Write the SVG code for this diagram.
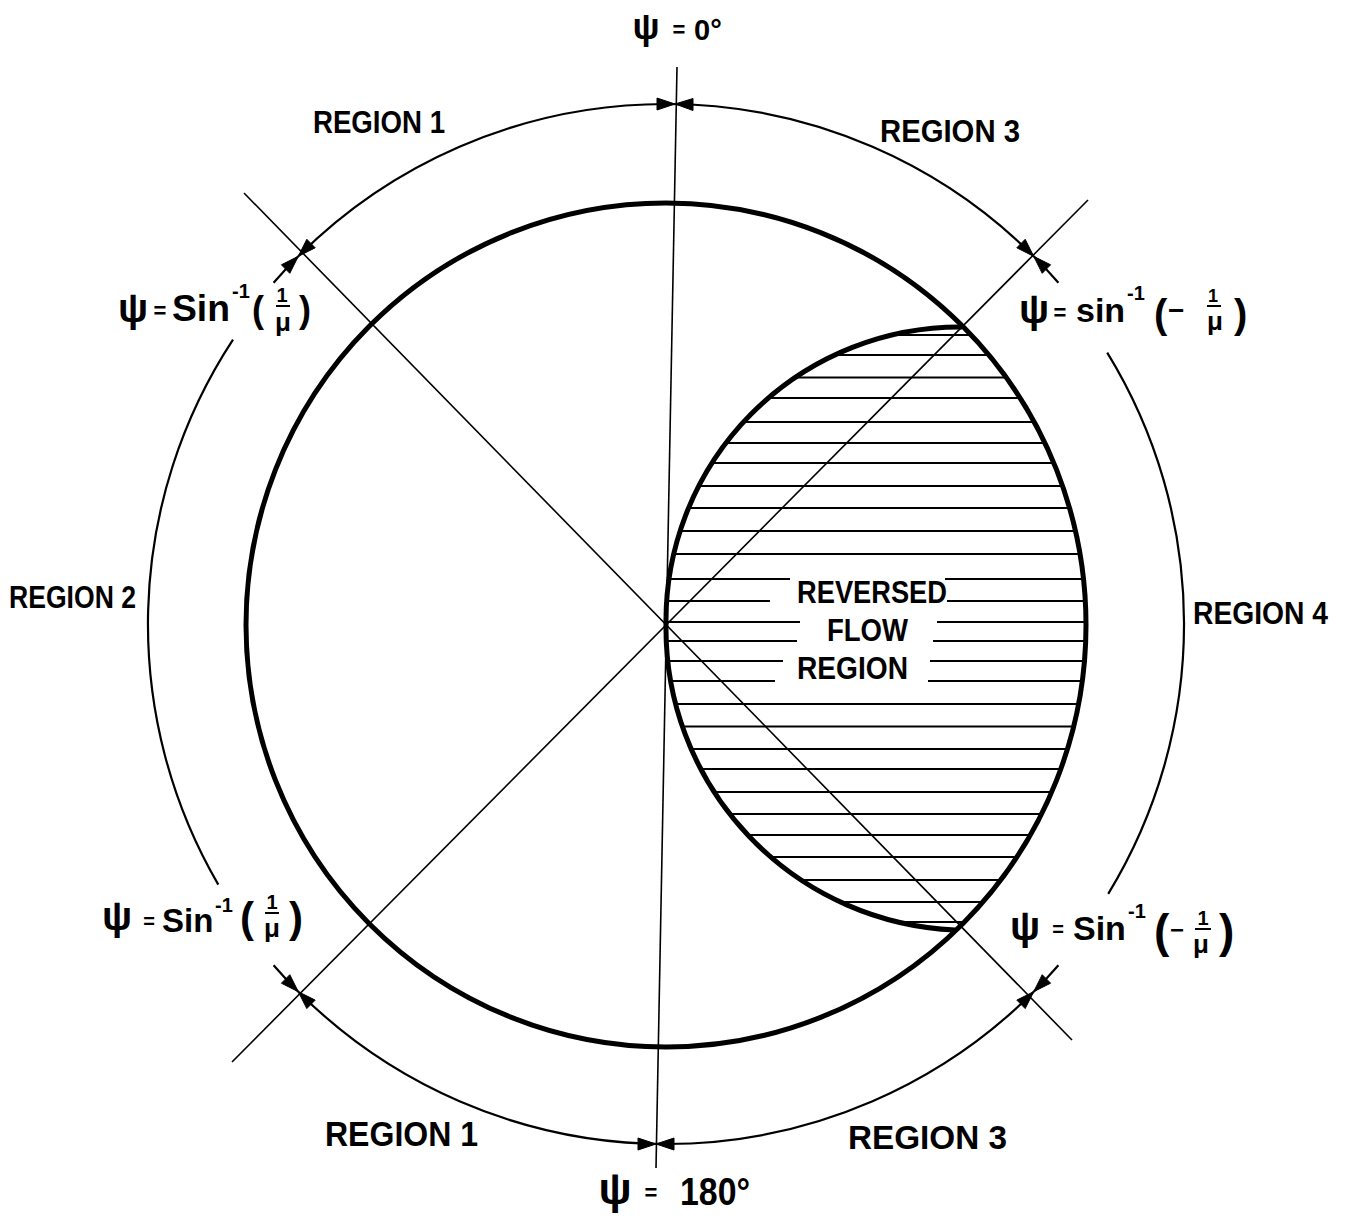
<svg xmlns="http://www.w3.org/2000/svg" width="1350" height="1220" viewBox="0 0 1350 1220">
<style>
.lbl{font-family:"Liberation Sans","DejaVu Sans",sans-serif;font-weight:bold;fill:#000}
.thin{fill:none;stroke:#000;stroke-width:1.6}
.dim{fill:none;stroke:#000;stroke-width:2.2}
.thick{fill:none;stroke:#000;stroke-width:5}
.hatch{stroke:#000;stroke-width:2}
.bar{stroke:#000;stroke-width:2}
.arr{fill:#000;stroke:#000;stroke-width:1}
</style>
<defs>
<clipPath id="mainC"><ellipse cx="666" cy="625" rx="420" ry="422"/></clipPath>
<clipPath id="flowC"><path d="M 962 327 A 294 294 0 0 0 666 625 A 302 302 0 0 0 955 930 L 1200 930 L 1200 327 Z"/></clipPath>
</defs>
<rect width="1350" height="1220" fill="#fff"/>

<g id="connectors">
<line class="thin" x1="677" y1="67" x2="656" y2="1168"/>
<line class="thin" x1="244" y1="193" x2="1072" y2="1040"/>
<line class="thin" x1="1088" y1="200" x2="232" y2="1062"/>
<path class="dim" d="M 298.3 256.3 A 520 520 0 0 1 1033.7 256.3"/>
<path class="dim" d="M 1033.7 991.7 A 520 520 0 0 1 298.3 991.7"/>
<path class="dim" d="M 233 339.6 A 518 518 0 0 0 218.3 884.6"/>
<path class="dim" d="M 1107.2 352.6 A 518 518 0 0 1 1108.2 893.9"/>
<path class="dim" d="M 298.3 256.3 A 520 520 0 0 0 273.6 282.8"/>
<path class="dim" d="M 1033.7 256.3 A 520 520 0 0 1 1058.4 282.8"/>
<path class="dim" d="M 1033.7 991.7 A 520 520 0 0 0 1058.4 965.2"/>
<path class="dim" d="M 298.3 991.7 A 520 520 0 0 1 273.6 965.2"/>
<polygon class="arr" points="675,104 657,98 657,110"/>
<polygon class="arr" points="675,104 693,98.5 693,110.5"/>
<polygon class="arr" points="298.3,256.3 306.8,239.3 315.2,247.8"/>
<polygon class="arr" points="298.3,256.3 281.4,264.8 289.8,273.3"/>
<polygon class="arr" points="1033.7,256.3 1025.2,239.3 1016.8,247.8"/>
<polygon class="arr" points="1033.7,256.3 1050.6,264.8 1042.2,273.3"/>
<polygon class="arr" points="1033.7,991.7 1025.2,1008.6 1016.8,1000.1"/>
<polygon class="arr" points="1033.7,991.7 1050.6,983.2 1042.2,974.7"/>
<polygon class="arr" points="298.3,991.7 306.8,1008.6 315.2,1000.1"/>
<polygon class="arr" points="298.3,991.7 281.4,983.2 289.8,974.7"/>
<polygon class="arr" points="656,1144 638,1138 638,1150"/>
<polygon class="arr" points="656,1144 674,1138 674,1150"/>
</g>

<g id="main-circle">
<ellipse class="thick" cx="666" cy="625" rx="420" ry="422"/>
</g>

<g id="reversed-flow-region">
<g clip-path="url(#mainC)">
<g clip-path="url(#flowC)">
<line class="hatch" x1="640" y1="335" x2="1100" y2="335"/>
<line class="hatch" x1="640" y1="355" x2="1100" y2="355"/>
<line class="hatch" x1="640" y1="377.5" x2="1100" y2="377.5"/>
<line class="hatch" x1="640" y1="398" x2="1100" y2="398"/>
<line class="hatch" x1="640" y1="422" x2="1100" y2="422"/>
<line class="hatch" x1="640" y1="443" x2="1100" y2="443"/>
<line class="hatch" x1="640" y1="463" x2="1100" y2="463"/>
<line class="hatch" x1="640" y1="486" x2="1100" y2="486"/>
<line class="hatch" x1="640" y1="508" x2="1100" y2="508"/>
<line class="hatch" x1="640" y1="531" x2="1100" y2="531"/>
<line class="hatch" x1="640" y1="554" x2="1100" y2="554"/>
<line class="hatch" x1="640" y1="579" x2="790" y2="579"/>
<line class="hatch" x1="945" y1="579" x2="1100" y2="579"/>
<line class="hatch" x1="640" y1="601" x2="770" y2="601"/>
<line class="hatch" x1="947" y1="601" x2="1100" y2="601"/>
<line class="hatch" x1="640" y1="622" x2="800" y2="622"/>
<line class="hatch" x1="937" y1="622" x2="1100" y2="622"/>
<line class="hatch" x1="640" y1="641" x2="797" y2="641"/>
<line class="hatch" x1="933" y1="641" x2="1100" y2="641"/>
<line class="hatch" x1="640" y1="661" x2="783" y2="661"/>
<line class="hatch" x1="930" y1="661" x2="1100" y2="661"/>
<line class="hatch" x1="640" y1="681" x2="775" y2="681"/>
<line class="hatch" x1="928" y1="681" x2="1100" y2="681"/>
<line class="hatch" x1="640" y1="704" x2="1100" y2="704"/>
<line class="hatch" x1="640" y1="726.5" x2="1100" y2="726.5"/>
<line class="hatch" x1="640" y1="749" x2="1100" y2="749"/>
<line class="hatch" x1="640" y1="769" x2="1100" y2="769"/>
<line class="hatch" x1="640" y1="792" x2="1100" y2="792"/>
<line class="hatch" x1="640" y1="814" x2="1100" y2="814"/>
<line class="hatch" x1="640" y1="835" x2="1100" y2="835"/>
<line class="hatch" x1="640" y1="857" x2="1100" y2="857"/>
<line class="hatch" x1="640" y1="880" x2="1100" y2="880"/>
<line class="hatch" x1="640" y1="902" x2="1100" y2="902"/>
<line class="hatch" x1="640" y1="922" x2="1100" y2="922"/>
</g>
</g>
<path class="thick" d="M 962 327 A 294 294 0 0 0 666 625 A 302 302 0 0 0 955 930"/>
<text class="lbl" x="797" y="603" font-size="32" textLength="150" lengthAdjust="spacingAndGlyphs">REVERSED</text>
<text class="lbl" x="827" y="641" font-size="32" textLength="81" lengthAdjust="spacingAndGlyphs">FLOW</text>
<text class="lbl" x="797" y="679" font-size="32" textLength="111" lengthAdjust="spacingAndGlyphs">REGION</text>
</g>

<g id="labels-regions">
<text class="lbl" x="313" y="133" font-size="32" textLength="132" lengthAdjust="spacingAndGlyphs">REGION 1</text>
<text class="lbl" x="880" y="142" font-size="32" textLength="140" lengthAdjust="spacingAndGlyphs">REGION 3</text>
<text class="lbl" x="9" y="608" font-size="32" textLength="127" lengthAdjust="spacingAndGlyphs">REGION 2</text>
<text class="lbl" x="1193" y="624" font-size="32" textLength="135" lengthAdjust="spacingAndGlyphs">REGION 4</text>
<text class="lbl" x="325" y="1146" font-size="35" textLength="153" lengthAdjust="spacingAndGlyphs">REGION 1</text>
<text class="lbl" x="848" y="1149" font-size="34" textLength="159" lengthAdjust="spacingAndGlyphs">REGION 3</text>
</g>

<g id="label-psi-0">
<text class="lbl" x="646" y="39" font-size="36" text-anchor="middle">ψ</text>
<text class="lbl" x="679" y="37" font-size="22" text-anchor="middle">=</text>
<text class="lbl" x="694" y="40" font-size="29">0°</text>
</g>

<g id="label-psi-180">
<text class="lbl" x="615" y="1204" font-size="44" text-anchor="middle">ψ</text>
<text class="lbl" x="651" y="1200" font-size="22" text-anchor="middle">=</text>
<text class="lbl" x="680" y="1205" font-size="38" textLength="70" lengthAdjust="spacingAndGlyphs">180°</text>
</g>

<g id="label-top-left">
<text class="lbl" x="133" y="322" font-size="40" text-anchor="middle">ψ</text>
<text class="lbl" x="160" y="318" font-size="22" text-anchor="middle">=</text>
<text class="lbl" x="172" y="321" font-size="36" textLength="58" lengthAdjust="spacingAndGlyphs">Sin</text>
<text class="lbl" x="232" y="298" font-size="20">-1</text>
<text class="lbl" x="252" y="322" font-size="36">(</text>
<text class="lbl" x="282" y="302" font-size="20" text-anchor="middle">1</text>
<text class="lbl" x="283" y="331" font-size="26" text-anchor="middle">μ</text>
<text class="lbl" x="299" y="322" font-size="36">)</text>
<line class="bar" x1="276" y1="306" x2="290" y2="306"/>
</g>

<g id="label-top-right">
<text class="lbl" x="1034" y="323" font-size="40" text-anchor="middle">ψ</text>
<text class="lbl" x="1060" y="320" font-size="22" text-anchor="middle">=</text>
<text class="lbl" x="1076" y="322" font-size="34">sin</text>
<text class="lbl" x="1127" y="300" font-size="20">-1</text>
<text class="lbl" x="1154" y="328" font-size="40">(</text>
<text class="lbl" x="1168" y="320" font-size="28">−</text>
<text class="lbl" x="1213" y="302" font-size="18" text-anchor="middle">1</text>
<text class="lbl" x="1215" y="330" font-size="26" text-anchor="middle">μ</text>
<text class="lbl" x="1234" y="328" font-size="40">)</text>
<line class="bar" x1="1207" y1="306" x2="1221" y2="306"/>
</g>

<g id="label-bottom-left">
<text class="lbl" x="117" y="930" font-size="40" text-anchor="middle">ψ</text>
<text class="lbl" x="149" y="928" font-size="20" text-anchor="middle">=</text>
<text class="lbl" x="162" y="932" font-size="33">Sin</text>
<text class="lbl" x="215" y="912" font-size="20">-1</text>
<text class="lbl" x="240" y="932" font-size="42">(</text>
<text class="lbl" x="272" y="909" font-size="20" text-anchor="middle">1</text>
<text class="lbl" x="272" y="937" font-size="26" text-anchor="middle">μ</text>
<text class="lbl" x="289" y="932" font-size="42">)</text>
<line class="bar" x1="265" y1="913" x2="279" y2="913"/>
</g>

<g id="label-bottom-right">
<text class="lbl" x="1025" y="940" font-size="40" text-anchor="middle">ψ</text>
<text class="lbl" x="1058" y="936" font-size="20" text-anchor="middle">=</text>
<text class="lbl" x="1073" y="940" font-size="34">Sin</text>
<text class="lbl" x="1128" y="918" font-size="20">-1</text>
<text class="lbl" x="1154" y="947" font-size="46">(</text>
<text class="lbl" x="1170" y="938" font-size="24">−</text>
<text class="lbl" x="1203" y="925" font-size="20" text-anchor="middle">1</text>
<text class="lbl" x="1201" y="953" font-size="26" text-anchor="middle">μ</text>
<text class="lbl" x="1219" y="947" font-size="46">)</text>
<line class="bar" x1="1195" y1="929" x2="1211" y2="929"/>
</g>
</svg>
